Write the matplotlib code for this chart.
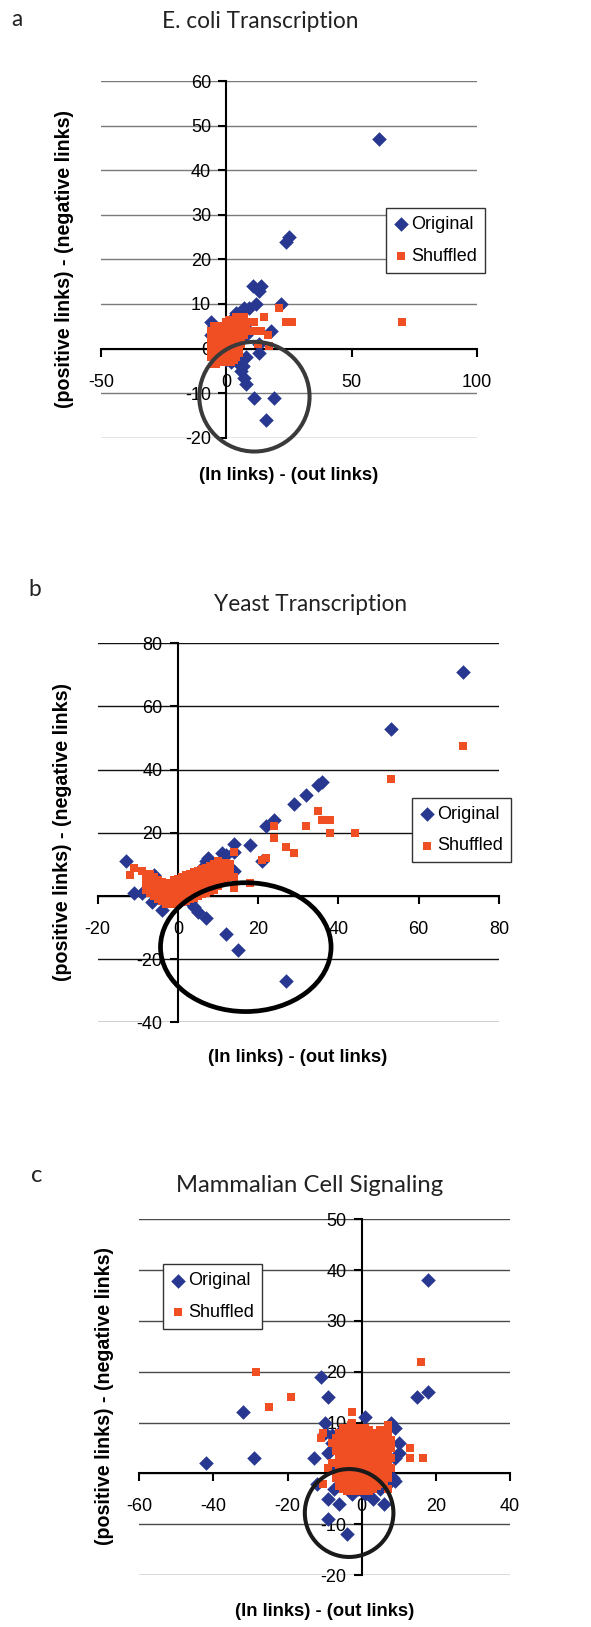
import matplotlib
matplotlib.use("Agg")
import matplotlib.pyplot as plt
from matplotlib.patches import Ellipse
from matplotlib import font_manager

plt.rcParams['font.family'] = ['Liberation Sans', 'DejaVu Sans']
plt.rcParams['axes.unicode_minus'] = False

# ---------------- data ----------------
# Panel a: E. coli Transcription
orig_a_x = [61, 24, 25, 10.5, 14, 13, 12, 22, 18, 7, 4, -5, -6, 13, 13, 6.5, 11, 19, 16, 8,
            7, 6, 5, 4, 3, 2, 8, -4, -2, 1, 0, -5, -3, -1, 1, 2, 5, 7, 8, 3, -1, -6, 9, 3]
orig_a_y = [47, 24, 25, 14, 14, 13, 10, 10, 4, 9, 8, 5, 3, 1, -1, -4, -11, -11, -16, -8,
            -6.5, -5, -3.5, -2.5, -2, -3, -2, -1, -2, -1, -2.5, 1, 4, 3, 2, 5, 6, 5, 3, 1, 0, 6, 9, 7]
shuf_a_x = [70, 24, 26, 21, 15, 7, 11, 9, 11, 14, 16.5, 12.5, 17, 9, 8, -4,
            -6, -6, -6, -6, -6,
            -5, -5, -5, -5, -5, -5, -5,
            -4, -4, -4, -4, -4, -4,
            -3, -3, -3, -3, -3, -3,
            -2, -2, -2, -2, -2, -2,
            -1, -1, -1, -1, -1, -1,
            0, 0, 0, 0, 0, 0, 0,
            1, 1, 1, 1, 1, 1, 1,
            2, 2, 2, 2, 2, 2, 2,
            3, 3, 3, 3, 3, 3, 3,
            4, 4, 4, 4, 4, 4, 4,
            5, 5, 5, 5, 5, 5,
            6, 6, 6, 6, 6,
            7, 7, 7]
shuf_a_y = [6, 6, 6, 9, 7, 7, 6, 6, 4, 4, 3, 1, 0.5, 4, 5, -3.5,
            -2, -0.5, 1, 2.5, 4,
            -3.5, -2, -0.5, 1, 2.5, 4, 5,
            -3, -1.5, 0, 1.5, 3, 4.5,
            -2.5, -1, 0.5, 2, 3.5, 5,
            -3, -1.5, 0, 1.5, 3, 4.5,
            -2.5, -1, 0.5, 2, 3.5, 5,
            -3, -1.5, 0, 1.5, 3, 4.5, 6,
            -2.5, -1, 0.5, 2, 3.5, 5, 6.5,
            -3, -1.5, 0, 1.5, 3, 4.5, 6,
            -2.5, -1, 0.5, 2, 3.5, 5, 6.5,
            -2, -0.5, 1, 2.5, 4, 5.5, 7,
            -1, 0.5, 2, 3.5, 5, 6.5,
            1, 2.5, 4, 5.5, 7,
            3, 4.5, 6]

# Panel b: Yeast Transcription
orig_b_x = [71, 53, 35, 36, 32, 29, 24, 22, 18, 14, 21, 11, 12, 7.5, 7, 14, 14, -13, -11, -9,
            -6.5, -4, 5, 4, 7, 12, 15, 27, -6, -7, -1, 1, 2, 3, 6, 8, 10, 9, 5, 4,
            -3, -5, 0, 2, 13, 12, -2, 1]
orig_b_y = [71, 53, 35, 36, 32, 29, 24, 22, 16, 16.5, 11, 13.5, 13, 12, 11, 14, 8, 11, 1, 1,
            -2, -4.5, -5, -3.5, -7, -12, -17, -27, 6.5, 6, 3.5, 5, 6, -2, 9, 10, 10, 8, 7, 5,
            2, 4, 0, 1, 9, 7, -1, -1]
shuf_b_x = [71, 53, 35, 36, 38, 38, 44, 32, 24, 24, 27, 29, 22, 21, 14, 18, 14, 14, -12, -11, -9, -8,
            -3, 2,
            -8, -8, -8,
            -7, -7, -7, -7,
            -6, -6, -6, -6,
            -5, -5, -5, -5,
            -4, -4, -4, -4,
            -3, -3, -3, -3,
            -2, -2, -2, -2,
            -1, -1, -1, -1, -1,
            0, 0, 0, 0, 0,
            1, 1, 1, 1, 1,
            2, 2, 2, 2, 2,
            3, 3, 3, 3, 3,
            4, 4, 4, 4, 4,
            5, 5, 5, 5, 5,
            6, 6, 6, 6, 6,
            7, 7, 7, 7, 7,
            8, 8, 8, 8, 8,
            9, 9, 9, 9, 9,
            10, 10, 10, 10, 10,
            11, 11, 11, 11,
            12, 12, 12, 12,
            13, 13, 13]
shuf_b_y = [47.5, 37, 27, 24, 24, 20, 20, 22, 22, 18.5, 15.5, 13.5, 12, 11.5, 14, 4, 2.5, 6, 6.5, 9, 8, 4.5,
            -2.5, 6.5,
            2, 4, 6,
            1, 3, 5, 7,
            0, 2, 4, 6,
            -1, 1, 3, 5,
            -1.5, 0.5, 2.5, 4.5,
            -2, 0, 2, 4,
            -2.5, -0.5, 1.5, 3.5,
            -2.5, -0.5, 1.5, 3.5, 5,
            -2.5, -0.5, 1.5, 3.5, 5.5,
            -2, 0, 2, 4, 6,
            -1.5, 0.5, 2.5, 4.5, 6.5,
            -1, 1, 3, 5, 7,
            -0.5, 1.5, 3.5, 5.5, 7.5,
            0, 2, 4, 6, 8,
            0.5, 2.5, 4.5, 6.5, 8.5,
            1, 3, 5, 7, 9,
            1.5, 3.5, 5.5, 7.5, 9.5,
            2, 4, 6, 8, 10,
            3, 5, 7, 9, 11,
            4, 6, 8, 10,
            5, 7, 9, 10.5,
            6, 8, 10]

# Panel c: Mammalian Cell Signaling
orig_c_x = [18, 18, 15, -11, -9, -32, -29, -42, -10, 1, -13, -12, -7.5, -9, -6, -9, -4, -2.5, 3, 6,
            8.5, 8, 9, 10, 10, 9, -9, -8, 6, 7, 5, -3, -6, -8, -1, 2, 4, -2, 0, 9,
            -5, 1, -10, -7]
orig_c_y = [38, 16, 15, 19, 15, 12, 3, 2, 10, 11, 3, -2, -3, -5, -6, -9, -12, -4, -5, -6,
            -1, 10, 9, 6, 4, 3, 4, 6, 8, -2, -3, 9, 8, 7.5, -3, -2, 0, 1, 5, -1.5,
            -1, -4, 8, 1]
shuf_c_x = [16, -28.5, -19, -25, -2.5, -2.5, 0.5, 13, 13, 16.5, -10.5, -11, -8, -8, -10.5, 7, -9,
            -7, -7, -7, -7,
            -6, -6, -6, -6, -6, -6, -6,
            -5, -5, -5, -5, -5, -5, -5, -5,
            -4, -4, -4, -4, -4, -4, -4, -4, -4,
            -3, -3, -3, -3, -3, -3, -3, -3, -3,
            -2, -2, -2, -2, -2, -2, -2, -2, -2,
            -1, -1, -1, -1, -1, -1, -1, -1, -1,
            0, 0, 0, 0, 0, 0, 0, 0, 0,
            1, 1, 1, 1, 1, 1, 1, 1, 1,
            2, 2, 2, 2, 2, 2, 2, 2, 2,
            3, 3, 3, 3, 3, 3, 3, 3,
            4, 4, 4, 4, 4, 4, 4, 4,
            5, 5, 5, 5, 5, 5, 5, 5,
            6, 6, 6, 6, 6, 6, 6,
            7, 7, 7, 7, 7, 7, 7, 7,
            8, 8, 8, 8]
shuf_c_y = [22, 20, 15, 13, 12, 10, 9, 5, 3, 3, 8, 7, 6, 2, -2, -3, 1,
            -1, 2, 4.5, 7,
            -2.5, 0, 1.5, 3, 5, 6.5, 8,
            -3, -1, 1, 2.5, 4, 5.5, 7.5, 9,
            -3.5, -2, 0, 1.5, 3, 4.5, 6, 7, 8.5,
            -3, -1.5, 0.5, 2, 3.5, 5, 6.5, 8, 9.5,
            -3.5, -2, -0.5, 1, 2.5, 4, 5.5, 7, 8.5,
            -3, -1.5, 0, 1.5, 3, 4.5, 6, 7.5, 9,
            -3.5, -2, -0.5, 1, 2.5, 4, 5.5, 7, 8,
            -3, -1.5, 0, 1.5, 3, 4.5, 6, 7.5, 9,
            -3.5, -2, -0.5, 1, 2.5, 4, 5.5, 7, 8.5,
            -3, -1.5, 0.5, 2, 3.5, 5, 6.5, 8,
            -2.5, -1, 0.5, 2, 3.5, 5, 6.5, 8,
            -2, -0.5, 1, 2.5, 4, 5.5, 7, 8.5,
            -1.5, 0, 1.5, 3, 4.5, 6, 7.5,
            -1, 0.5, 2, 3.5, 5, 6.5, 8, 9.5,
            1, 3, 5, 6.5]

titles = ["E. coli Transcription", "Yeast Transcription", "Mammalian Cell Signaling"]
panel_letters = ["a", "b", "c"]
series_names = ["Original", "Shuffled"]
xlabel = "(In links) - (out links)"
ylabel = "(positive links) - (negative links)"
xticks_a = [-50, 0, 50, 100]
yticks_a = [-20, -10, 0, 10, 20, 30, 40, 50, 60]
xticks_b = [-20, 0, 20, 40, 60, 80]
yticks_b = [-40, -20, 0, 20, 40, 60, 80]
xticks_c = [-60, -40, -20, 0, 20, 40]
yticks_c = [-20, -10, 0, 10, 20, 30, 40, 50]

# ---------------- drawing ----------------
W, H = 591, 1627
BLUE = '#283891'
ORANGE = '#F04E23'

_names = {f.name for f in font_manager.fontManager.ttflist}
TITLE_FAMILY = 'Liberation Sans Narrow' if 'Liberation Sans Narrow' in _names else 'Lato'

fig = plt.figure(figsize=(W / 100, H / 100), dpi=100)


def fx(px):
    return px / W


def fy(py):
    return 1 - py / H


def make_axes(x0, x1, y0, y1):
    return fig.add_axes([fx(x0), fy(y1), (x1 - x0) / W, (y1 - y0) / H])


def style(ax, xlim, ylim, xticks, yticks, gridcolor):
    ax.set_xlim(*xlim)
    ax.set_ylim(*ylim)
    ax.patch.set_alpha(0)
    for s in ['top', 'right']:
        ax.spines[s].set_visible(False)
    ax.spines['left'].set_position(('data', 0))
    ax.spines['bottom'].set_position(('data', 0))
    for s in ['left', 'bottom']:
        ax.spines[s].set_linewidth(1.5)
        ax.spines[s].set_color('black')
        ax.spines[s].set_zorder(2)
    ax.set_xticks(xticks)
    ax.set_yticks(yticks)
    ax.tick_params(axis='x', direction='out', length=6, width=1.5, pad=12, labelsize=13)
    ax.tick_params(axis='y', direction='out', length=6, width=1.5, pad=5, labelsize=13)
    for y in yticks:
        ax.axhline(y, color=gridcolor, lw=1.0, zorder=0.5)


def scatter_pair(ax, ox, oy, sx, sy):
    ax.scatter(ox, oy, marker='D', s=55, c=BLUE, linewidths=0, zorder=3, label=series_names[0])
    ax.scatter(sx, sy, marker='s', s=28, c=ORANGE, linewidths=0, zorder=4, label=series_names[1])


def add_legend(ax, x0, y0):
    leg = ax.legend(loc='upper left', bbox_to_anchor=(fx(x0), fy(y0)), bbox_transform=fig.transFigure,
                    borderaxespad=0, frameon=True, fancybox=False, framealpha=1, edgecolor='#333333',
                    fontsize=13, borderpad=0.45, labelspacing=0.8, handlelength=0.8,
                    handletextpad=0.15, scatterpoints=1)
    leg.get_frame().set_linewidth(1.0)
    leg.set_zorder(6)


title_font = dict(family=TITLE_FAMILY, fontsize=19, color='#222222', ha='center', va='center')
label_font = dict(fontweight='bold', color='black', ha='center', va='center')

title_texts = []
letter_texts = []

# Panel a
ax = make_axes(101, 477, 81, 437.7)
style(ax, (-50, 100), (-20, 60), xticks_a, yticks_a, '#7a7a7a')
scatter_pair(ax, orig_a_x, orig_a_y, shuf_a_x, shuf_a_y)
ax.add_patch(Ellipse((11.2, -10.8), 44, 24.6, fill=False, ec='#3a3a3a', lw=2.9, zorder=5, clip_on=False))
add_legend(ax, 386, 208)
title_texts.append((fig.text(fx(260), fy(22), titles[0], **title_font), 196))
letter_texts.append(fig.text(fx(17), fy(20), panel_letters[0], **title_font))
fig.text(fx(289), fy(475), xlabel, fontsize=13.2, **label_font)
fig.text(fx(65), fy(259), ylabel, fontsize=14.1, rotation=90, **label_font)

# Panel b
ax = make_axes(97.7, 499, 643.3, 1022.3)
style(ax, (-20, 80), (-40, 80), xticks_b, yticks_b, '#111111')
scatter_pair(ax, orig_b_x, orig_b_y, shuf_b_x, shuf_b_y)
ax.add_patch(Ellipse((16.9, -16.2), 42.5, 40.8, fill=False, ec='black', lw=3.4, zorder=5, clip_on=False))
add_legend(ax, 412, 797.7)
title_texts.append((fig.text(fx(311), fy(605), titles[1], **title_font), 193))
letter_texts.append(fig.text(fx(35), fy(590), panel_letters[1], **title_font))
fig.text(fx(298), fy(1058), xlabel, fontsize=13.2, **label_font)
fig.text(fx(63), fy(832), ylabel, fontsize=14.1, rotation=90, **label_font)

# Panel c
ax = make_axes(139.3, 510, 1219.3, 1575)
style(ax, (-60, 40), (-20, 50), xticks_c, yticks_c, '#4a4a4a')
scatter_pair(ax, orig_c_x, orig_c_y, shuf_c_x, shuf_c_y)
ax.add_patch(Ellipse((-3.4, -7.8), 23.9, 17.3, fill=False, ec='#1a1a1a', lw=2.9, zorder=5, clip_on=False))
add_legend(ax, 163, 1264.3)
title_texts.append((fig.text(fx(309.5), fy(1185), titles[2], **title_font), 267.6))
letter_texts.append(fig.text(fx(37), fy(1175), panel_letters[2], **title_font))
fig.text(fx(325), fy(1612), xlabel, fontsize=13.2, **label_font)
fig.text(fx(105), fy(1396), ylabel, fontsize=14.1, rotation=90, **label_font)

# fit title font size to the reference title widths
fig.canvas.draw()
renderer = fig.canvas.get_renderer()
sizes = []
for t, target in title_texts:
    w = t.get_window_extent(renderer).width
    fs = t.get_fontsize() * target / w
    t.set_fontsize(fs)
    sizes.append(fs)
for t, fs in zip(letter_texts, sizes):
    t.set_fontsize(fs)

fig.savefig('out.png', dpi=100, facecolor='white')
